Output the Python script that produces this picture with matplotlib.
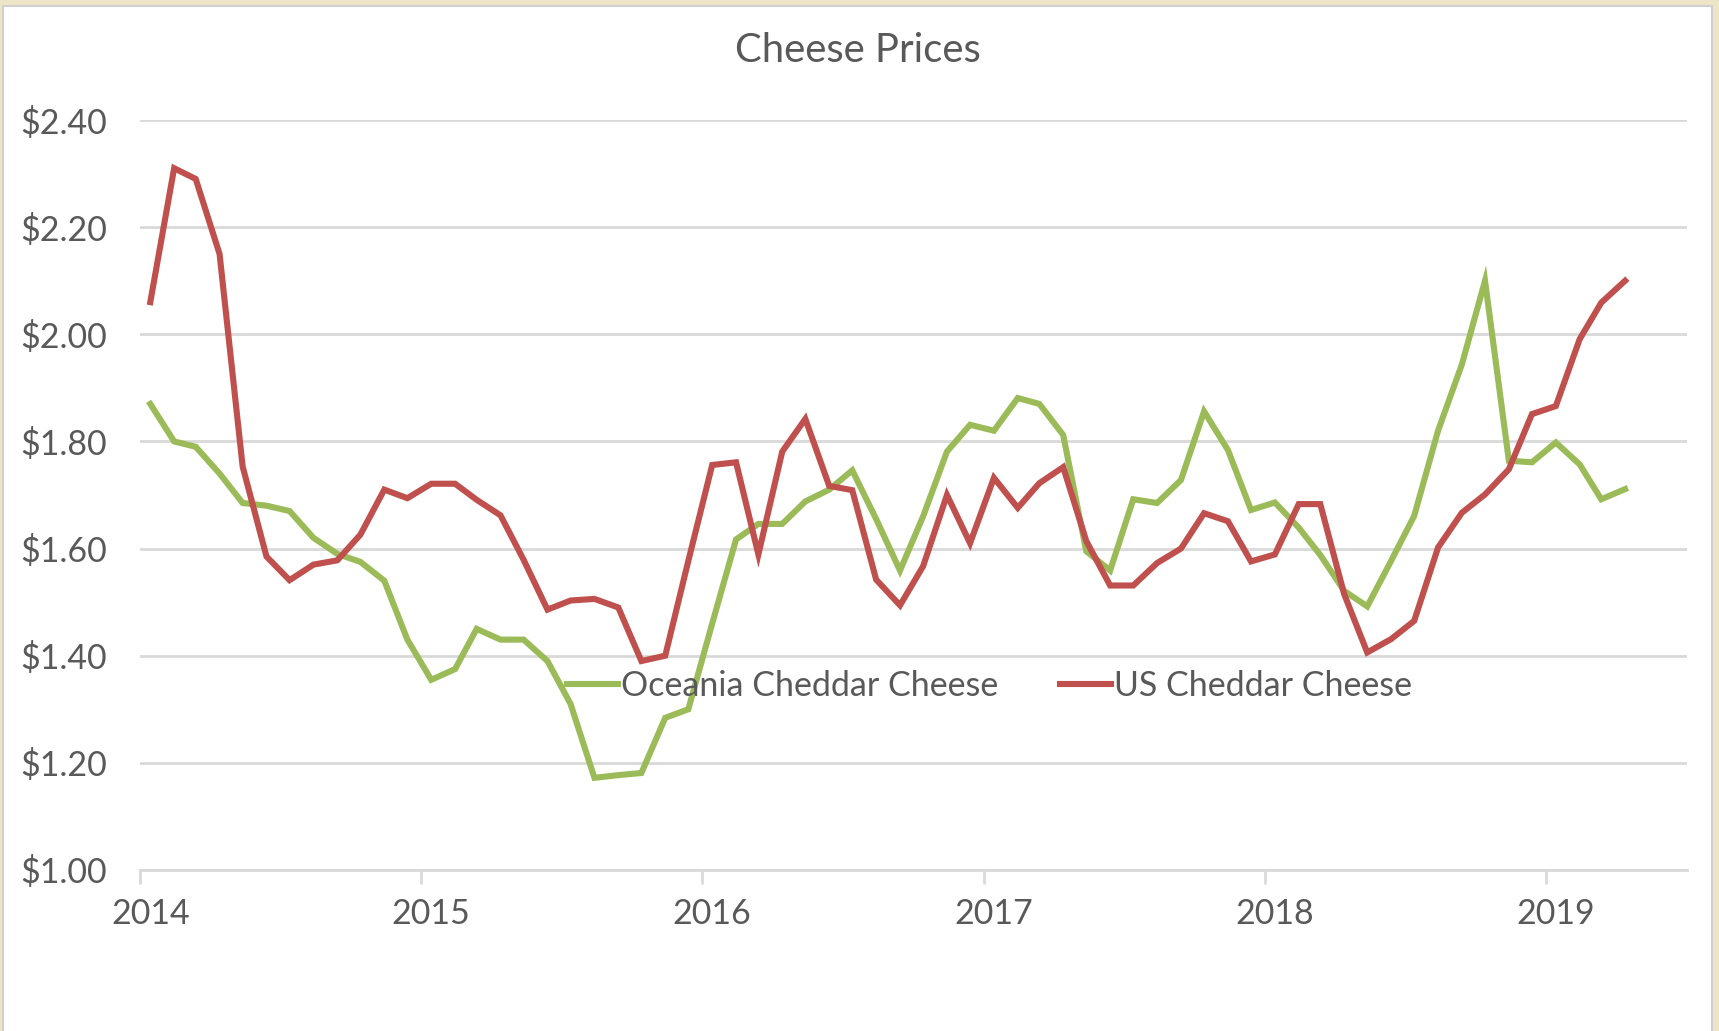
import matplotlib
matplotlib.use('Agg')
import matplotlib.pyplot as plt
import matplotlib.dates as mdates
import matplotlib.transforms as mtransforms
from matplotlib.patches import Rectangle
import pandas as pd

plt.rcParams['font.family'] = ['Lato', 'DejaVu Sans']

# monthly prices, Jan 2014 - Apr 2019
months = pd.date_range('2014-01-01', periods=64, freq='MS') + pd.Timedelta(days=13)

oceania = [1.87, 1.80, 1.79, 1.74, 1.685, 1.68, 1.67, 1.62, 1.59, 1.575,
           1.54, 1.43, 1.355, 1.375, 1.45, 1.43, 1.43, 1.39, 1.31, 1.172,
           1.177, 1.181, 1.284, 1.30, 1.46, 1.617, 1.646, 1.646, 1.688, 1.71,
           1.746, 1.655, 1.559, 1.66, 1.781, 1.831, 1.82, 1.881, 1.87, 1.812,
           1.595, 1.559, 1.692, 1.685, 1.728, 1.856, 1.784, 1.672, 1.686, 1.639,
           1.588, 1.521, 1.492, 1.577, 1.661, 1.82, 1.944, 2.10, 1.764, 1.761,
           1.798, 1.757, 1.692, 1.711]

us = [2.06, 2.31, 2.29, 2.15, 1.753, 1.585, 1.541, 1.570, 1.578, 1.626,
      1.71, 1.694, 1.721, 1.721, 1.691, 1.662, 1.579, 1.486, 1.503, 1.506,
      1.49, 1.39, 1.40, 1.577, 1.756, 1.761, 1.589, 1.781, 1.842, 1.717,
      1.709, 1.542, 1.494, 1.567, 1.70, 1.61, 1.732, 1.676, 1.722, 1.752,
      1.614, 1.531, 1.531, 1.573, 1.60, 1.666, 1.651, 1.576, 1.589, 1.683,
      1.683, 1.515, 1.406, 1.431, 1.465, 1.602, 1.667, 1.701, 1.748, 1.851,
      1.866, 1.991, 2.059, 2.10]

years = [2014, 2015, 2016, 2017, 2018, 2019]

text_col = '#595959'
grid_col = '#D9D9D9'

fig = plt.figure(figsize=(17.19, 10.31), dpi=100, facecolor='#EEE4C6')
# white chart area on the beige page
fig.patches.append(Rectangle((3 / 1719, -0.01), 1709 / 1719, 1.01 - 6 / 1031,
                             transform=fig.transFigure, facecolor='white',
                             edgecolor='#D0D0D0', linewidth=1.5, zorder=-5))

ax = fig.add_axes([0.0816, 0.1562, 0.8996, 0.7274])
ax.set_facecolor('white')

ax.plot(months, oceania, color='#9BBB59', linewidth=4.4, label='Oceania Cheddar Cheese',
        solid_joinstyle='miter', zorder=3)
ax.plot(months, us, color='#C0504D', linewidth=4.4, label='US Cheddar Cheese',
        solid_joinstyle='miter', zorder=3)

ax.set_ylim(1.0, 2.4)
ax.set_yticks([1.0, 1.2, 1.4, 1.6, 1.8, 2.0, 2.2, 2.4])
ax.yaxis.set_major_formatter(plt.FuncFormatter(lambda v, p: f'${v:.2f}'))
ax.set_xlim(pd.Timestamp('2014-01-01'), pd.Timestamp('2019-07-03'))
ax.set_xticks([pd.Timestamp(f'{y}-01-01') for y in years])
ax.xaxis.set_major_formatter(mdates.DateFormatter('%Y'))

ax.grid(axis='y', color=grid_col, linewidth=2)
ax.set_axisbelow(True)
for s in ['top', 'right', 'left']:
    ax.spines[s].set_visible(False)
ax.spines['bottom'].set_color(grid_col)
ax.spines['bottom'].set_linewidth(2)

ax.tick_params(axis='y', length=0, pad=24, labelsize=24.5, labelcolor=text_col)
ax.tick_params(axis='x', length=10, width=2, color=grid_col, pad=10,
               labelsize=24.5, labelcolor=text_col)
shift = mtransforms.ScaledTranslation(10 / 100, 0, fig.dpi_scale_trans)
for lbl in ax.get_xticklabels():
    lbl.set_transform(lbl.get_transform() + shift)

fig.text(0.499, 0.951, 'Cheese Prices', ha='center', va='center', fontsize=28.8, color=text_col)

fig.legend(loc='center', bbox_to_anchor=(0.5756, 0.3346), ncol=2, frameon=False,
           fontsize=24.5, labelcolor=text_col, handlelength=1.5, handletextpad=0.1,
           columnspacing=1.8)

fig.savefig('out.png', dpi=100, facecolor=fig.get_facecolor())
